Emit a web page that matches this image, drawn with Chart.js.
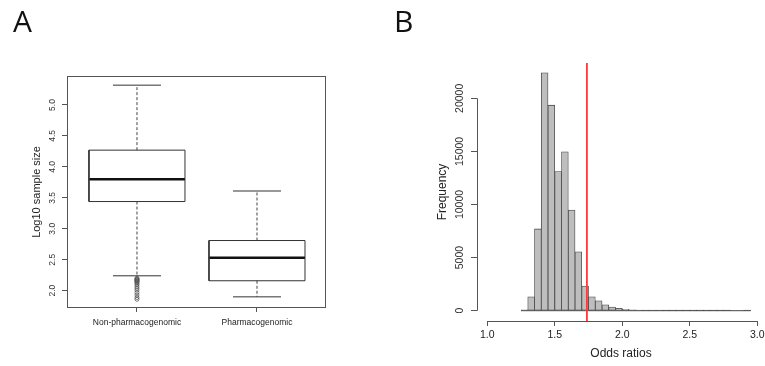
<!DOCTYPE html>
<html>
<head>
<meta charset="utf-8">
<script src="https://cdn.jsdelivr.net/npm/chart.js@4.4.1/dist/chart.umd.min.js"></script>
<style>
  body { margin: 0; background: #fff; }
  #wrap { position: relative; width: 765px; height: 366px; overflow: hidden; }
  canvas { position: absolute; top: 0; }
  #boxCanvas { left: 0; }
  #histCanvas { left: 380px; }
  .panel { position: absolute; font-family: 'Open Sans', sans-serif; font-size: 30px; line-height: 1; color: #111; }
</style>
</head>
<body>
<div id="wrap">
  <canvas id="boxCanvas" width="380" height="366"></canvas>
  <canvas id="histCanvas" width="385" height="366"></canvas>
  <div class="panel" style="left:13px; top:6px;">A</div>
  <div class="panel" style="left:394px; top:6px;">B</div>
</div>
<script>
// Panel A - log10 sample size per study type
const groups = ['Non-pharmacogenomic', 'Pharmacogenomic'];
const whiskerLow = [2.24, 1.90];
const quartile1 = [3.44, 2.16];
const medians = [3.80, 2.53];
const quartile3 = [4.27, 2.81];
const whiskerHigh = [5.32, 3.61];
const outliersNonPharm = [2.20, 2.19, 2.18, 2.17, 2.16, 2.15, 2.14, 2.12, 2.10, 2.07, 2.04, 2.01, 1.97, 1.93, 1.89, 1.86];
const yTicksA = [2.0, 2.5, 3.0, 3.5, 4.0, 4.5, 5.0];

// Panel B - histogram of odds ratios
const binEdges = [1.25, 1.30, 1.35, 1.40, 1.45, 1.50, 1.55, 1.60, 1.65, 1.70, 1.75, 1.80,
  1.85, 1.90, 1.95, 2.00, 2.05, 2.10, 2.15, 2.20, 2.25, 2.30, 2.35, 2.40, 2.45, 2.50,
  2.55, 2.60, 2.65, 2.70, 2.75, 2.80, 2.85, 2.90, 2.95];
const binCounts = [80, 1300, 7700, 22400, 19350, 13100, 14960, 9470, 5550, 2320, 1310, 930,
  550, 350, 225, 130, 90, 40, 30, 20, 15, 10, 8, 5, 4, 3, 2, 2, 1, 1, 1, 0, 0, 1];
const observedOR = 1.738;
const xTicksB = [1.0, 1.5, 2.0, 2.5, 3.0];
const yTicksB = [0, 5000, 10000, 15000, 20000];

Chart.defaults.font.family = "'Liberation Sans', Arial, sans-serif";
Chart.defaults.animation = false;

const family = "'Liberation Sans', Arial, sans-serif";
const tickGrid = { drawOnChartArea: false, drawTicks: true, tickLength: 5, color: '#555', lineWidth: 1 };

const frame = {
  id: 'frame',
  afterDraw(chart) {
    const a = chart.chartArea, c = chart.ctx;
    c.save();
    c.strokeStyle = '#555';
    c.lineWidth = 1;
    c.strokeRect(a.left + 0.5, a.top + 0.5, a.right - a.left - 1, a.bottom - a.top - 1);
    c.restore();
  }
};

// box plot built from line segments on a linear scale
const boxHalf = 0.4, capHalf = 0.2;
const boxSets = [];
const seg = (pts, extra) => Object.assign({
  data: pts, showLine: true, pointRadius: 0, borderColor: '#333', borderWidth: 1,
  fill: false, borderJoinStyle: 'miter'
}, extra || {});
groups.forEach((g, i) => {
  const x = i + 1;
  boxSets.push(seg([
    { x: x - boxHalf, y: quartile1[i] }, { x: x + boxHalf, y: quartile1[i] },
    { x: x + boxHalf, y: quartile3[i] }, { x: x - boxHalf, y: quartile3[i] },
    { x: x - boxHalf, y: quartile1[i] }
  ]));
  boxSets.push(seg([{ x: x - boxHalf, y: medians[i] }, { x: x + boxHalf, y: medians[i] }],
    { borderWidth: 2.5, borderColor: '#111' }));
  boxSets.push(seg([{ x: x, y: quartile3[i] }, { x: x, y: whiskerHigh[i] }], { borderDash: [3, 2], borderColor: '#444' }));
  boxSets.push(seg([{ x: x, y: quartile1[i] }, { x: x, y: whiskerLow[i] }], { borderDash: [3, 2], borderColor: '#444' }));
  boxSets.push(seg([{ x: x - capHalf, y: whiskerHigh[i] }, { x: x + capHalf, y: whiskerHigh[i] }]));
  boxSets.push(seg([{ x: x - capHalf, y: whiskerLow[i] }, { x: x + capHalf, y: whiskerLow[i] }]));
});
boxSets.push({
  data: outliersNonPharm.map(v => ({ x: 1, y: v })),
  showLine: false, pointRadius: 2, pointStyle: 'circle',
  borderColor: '#555', borderWidth: 0.8, backgroundColor: 'rgba(0,0,0,0)'
});

new Chart(document.getElementById('boxCanvas'), {
  type: 'scatter',
  data: { datasets: boxSets },
  plugins: [frame],
  options: {
    responsive: false,
    devicePixelRatio: 1,
    layout: { padding: { top: 76, right: 54, bottom: 0, left: 0 } },
    plugins: { legend: { display: false }, tooltip: { enabled: false } },
    scales: {
      x: {
        type: 'linear', min: 0.417, max: 2.575,
        afterBuildTicks: s => { s.ticks = groups.map((g, i) => ({ value: i + 1 })); },
        afterFit: s => { s.height = 58; s.paddingLeft = 0; s.paddingRight = 0; },
        border: { display: false },
        grid: Object.assign({}, tickGrid, { tickLength: 4 }),
        ticks: {
          callback: v => groups[v - 1], autoSkip: false, maxRotation: 0,
          font: { size: 8.5, family }, color: '#222', padding: 6
        }
      },
      y: {
        min: 1.72, max: 5.468,
        afterBuildTicks: s => { s.ticks = yTicksA.map(v => ({ value: v })); },
        afterFit: s => { s.width = 67; s.paddingTop = 0; s.paddingBottom = 0; },
        border: { display: false },
        grid: tickGrid,
        ticks: {
          minRotation: 90, maxRotation: 90, crossAlign: 'center', padding: 3,
          callback: v => v.toFixed(1), font: { size: 8.5, family }, color: '#333'
        },
        title: {
          display: true, text: 'Log10 sample size', color: '#222',
          font: { size: 11, family }, padding: { top: 30, bottom: 0 }
        }
      }
    }
  }
});

// R-style axis lines that only span the tick range
const rAxes = {
  id: 'rAxes',
  afterDraw(chart) {
    const { x, y } = chart.scales;
    const a = chart.chartArea, c = chart.ctx;
    c.save();
    c.strokeStyle = '#555';
    c.lineWidth = 1;
    c.beginPath();
    c.moveTo(x.getPixelForValue(xTicksB[0]), a.bottom + 0.5);
    c.lineTo(x.getPixelForValue(xTicksB[xTicksB.length - 1]), a.bottom + 0.5);
    c.moveTo(a.left + 0.5, y.getPixelForValue(yTicksB[0]));
    c.lineTo(a.left + 0.5, y.getPixelForValue(yTicksB[yTicksB.length - 1]));
    c.stroke();
    c.restore();
  }
};

const yMinB = -970, yMaxB = 23324;
const histData = binCounts.map((n, i) => ({ x: (binEdges[i] + binEdges[i + 1]) / 2, y: n }));

new Chart(document.getElementById('histCanvas'), {
  type: 'bar',
  data: {
    datasets: [
      {
        type: 'line', order: 0,
        data: [{ x: observedOR, y: yMinB }, { x: observedOR, y: yMaxB }],
        borderColor: '#ff3838', borderWidth: 1.8, pointRadius: 0
      },
      {
        type: 'line', order: 1,
        data: [{ x: binEdges[0], y: 0 }, { x: binEdges[binEdges.length - 1], y: 0 }],
        borderColor: '#444', borderWidth: 1, pointRadius: 0
      },
      {
        type: 'bar', order: 2, data: histData,
        backgroundColor: '#bebebe', borderColor: '#444', borderWidth: 0.8,
        borderSkipped: false, barPercentage: 1, categoryPercentage: 1
      }
    ]
  },
  plugins: [rAxes],
  options: {
    responsive: false,
    devicePixelRatio: 1,
    layout: { padding: { top: 63, right: 0, bottom: 0, left: 0 } },
    plugins: { legend: { display: false }, tooltip: { enabled: false } },
    scales: {
      x: {
        type: 'linear', min: 0.924, max: 3.057, offset: false,
        afterBuildTicks: s => { s.ticks = xTicksB.map(v => ({ value: v })); },
        afterFit: s => { s.height = 45; s.paddingLeft = 0; s.paddingRight = 0; },
        border: { display: false },
        grid: Object.assign({}, tickGrid, { offset: false }),
        ticks: {
          callback: v => v.toFixed(1), autoSkip: false, maxRotation: 0,
          font: { size: 10.5, family }, color: '#222', padding: 3
        },
        title: {
          display: true, text: 'Odds ratios', color: '#222',
          font: { size: 12, family }, padding: { top: 0, bottom: 5 }
        }
      },
      y: {
        min: yMinB, max: yMaxB,
        afterBuildTicks: s => { s.ticks = yTicksB.map(v => ({ value: v })); },
        afterFit: s => { s.width = 97; s.paddingTop = 0; s.paddingBottom = 0; },
        border: { display: false },
        grid: Object.assign({}, tickGrid, { tickLength: 6 }),
        ticks: {
          minRotation: 90, maxRotation: 90, crossAlign: 'center', padding: -4,
          callback: v => String(v), font: { size: 10.5, family }, color: '#333'
        },
        title: {
          display: true, text: 'Frequency', color: '#222',
          font: { size: 12, family }, padding: { top: 55, bottom: 0 }
        }
      }
    }
  }
});
</script>
</body>
</html>
